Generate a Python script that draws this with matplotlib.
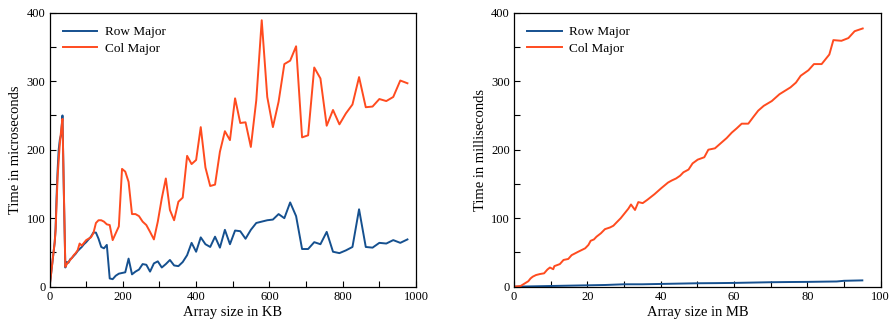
import matplotlib
matplotlib.use("Agg")
import matplotlib.pyplot as plt
from matplotlib.ticker import MultipleLocator

plt.rcParams['font.family'] = ['Liberation Serif', 'DejaVu Serif']

# ---------------- Left chart: array size in KB, time in microseconds ----------------
size_kb = [0, 2.4, 9.8, 14.1, 16.5, 19.1, 22.0, 25.0, 28.2, 31.6, 35.3, 39.1,
           43.1, 47.3, 51.7, 56.3, 61.0, 66.0, 71.2, 76.6, 82.1, 87.9, 93.9, 100.0,
           106.4, 112.9, 119.6, 126.6, 133.7, 141.0, 148.5, 156.3, 164.2, 172.3, 180.6,
           189.1, 197.8, 206.6, 215.7, 225.0, 234.5, 244.1, 254.0, 264.1, 274.3, 284.8,
           295.4, 306.3, 317.3, 328.5, 339.9, 351.6, 363.4, 375.4, 387.6, 400.0, 412.6,
           425.4, 438.4, 451.6, 464.9, 478.5, 492.3, 506.3, 520.4, 534.8, 549.3, 564.1,
           579.0, 594.1, 609.5, 625.0, 640.7, 656.6, 672.8, 689.1, 705.6, 722.3, 739.2,
           756.3, 773.5, 791.0, 808.7, 826.6, 844.6, 862.9, 881.4, 900.0, 918.9, 937.9,
           957.1, 976.6]

row_us = [0, 10, 45, 65, 85, 130, 170, 200, 215, 222, 250, 135,
          28, 36, 35, 40, 42, 45, 48, 52, 55, 58, 62, 65,
          69, 73, 79, 79, 70, 58, 56, 61, 12, 11, 16,
          19, 20, 21, 41, 18, 22, 25, 33, 32, 22, 34,
          37, 28, 33, 39, 31, 30, 36, 46, 64, 51, 72,
          62, 58, 73, 57, 83, 62, 82, 81, 70, 83, 93,
          95, 97, 98, 106, 100, 123, 103, 55, 55, 65, 62,
          80, 51, 49, 53, 58, 113, 58, 57, 64, 63, 68,
          64, 69]

col_us = [0, 10, 45, 65, 82, 120, 160, 185, 210, 228, 245, 140,
          29, 33, 36, 39, 42, 46, 49, 53, 63, 60, 64, 68,
          70, 72, 78, 93, 97, 97, 95, 91, 90, 68, 78,
          88, 172, 168, 153, 106, 106, 103, 95, 90, 80, 69,
          95, 129, 158, 112, 97, 124, 130, 191, 179, 185, 233,
          174, 147, 149, 197, 227, 214, 275, 239, 240, 204, 272,
          389, 277, 233, 270, 325, 330, 351, 218, 221, 320, 304,
          235, 258, 237, 253, 266, 306, 262, 263, 274, 271, 277,
          301, 297]

# ---------------- Right chart: array size in MB, time in milliseconds ----------------
col_mb = [0, 1.8, 3, 3.9, 4.5, 5.1, 6, 7.1, 8.2, 9.1, 9.8, 10.7, 11, 12.5, 13.5, 14.8,
          15.7, 17.5, 19.4, 20.3, 20.9, 21.8, 22.5, 23.7, 24.8, 26.2, 27.1, 28, 29.1,
          30, 31.2, 31.9, 33, 33.9, 35.1, 36.4, 38.3, 40.2, 42, 43, 44.2, 45.3, 46.2,
          47.6, 48.7, 50.1, 51.9, 53, 54.8, 56.5, 58, 59.4, 60.7, 62.1, 63.9, 65.3,
          66.6, 68.1, 70.3, 72.4, 73.9, 75.4, 76.9, 78.2, 80.3, 81.8, 83.9, 86, 87.1,
          89.3, 91.2, 92.9, 95.1]
col_ms = [0, 1, 5, 8, 12, 14.6, 17, 18.5, 19.5, 25, 28, 25.5, 30, 33, 39, 40.5,
          46, 51, 56, 61, 67, 69, 73, 78, 84, 86.5, 89, 94, 100,
          106, 114, 120, 112, 123.5, 122, 127, 135, 144, 152, 155, 158, 162, 167,
          171, 180, 185.5, 189, 200, 202, 210, 217, 225, 231, 238, 238, 248,
          257, 264, 271, 281, 286, 291, 298, 308, 316, 325, 325, 339, 360,
          359, 363, 373, 377]

row_mb = [0, 5, 10, 15, 20, 25, 30, 35, 40, 45, 50, 55, 60, 65, 70, 75, 80, 85, 88, 90, 95]
row_ms = [0, 0.5, 1, 1.5, 2, 2.5, 3.5, 3.5, 4, 4.5, 5, 5.2, 5.5, 6, 6.5, 6.8, 7, 7.4, 7.6, 8.6, 9.2]

BLUE = '#15508f'
RED = '#ff4b1f'

fig = plt.figure(figsize=(8.91, 3.26), dpi=100)
ax1 = fig.add_axes([0.0556, 0.1206, 0.4113, 0.8404])
ax2 = fig.add_axes([0.5769, 0.1206, 0.4115, 0.8404])


def style(ax, xmax, xmaj, xmin, xlabel, ylabel):
    ax.set_xlim(0, xmax)
    ax.set_ylim(0, 400)
    ax.xaxis.set_major_locator(MultipleLocator(xmaj))
    ax.xaxis.set_minor_locator(MultipleLocator(xmin))
    ax.yaxis.set_major_locator(MultipleLocator(100))
    ax.yaxis.set_minor_locator(MultipleLocator(50))
    ax.tick_params(which='both', direction='in', top=False, right=False,
                   labelsize=9, pad=3, width=0.8)
    ax.tick_params(which='major', length=4)
    ax.tick_params(which='minor', length=4)
    for s in ax.spines.values():
        s.set_linewidth(0.9)
    ax.set_xlabel(xlabel, fontsize=10.5, labelpad=2)
    ax.set_ylabel(ylabel, fontsize=10.5, labelpad=3)
    ax.legend(loc='upper left', frameon=False, fontsize=9.5, handlelength=2.6,
              borderaxespad=0.6, labelspacing=0.35, handletextpad=0.6)


ax1.plot(size_kb, row_us, color=BLUE, lw=1.4, label='Row Major')
ax1.plot(size_kb, col_us, color=RED, lw=1.4, label='Col Major')
style(ax1, 1000, 200, 100, 'Array size in KB', 'Time in microseconds')

ax2.plot(row_mb, row_ms, color=BLUE, lw=1.4, label='Row Major')
ax2.plot(col_mb, col_ms, color=RED, lw=1.4, label='Col Major')
style(ax2, 100, 20, 10, 'Array size in MB', 'Time in milliseconds')

fig.savefig('out.png', dpi=100)
